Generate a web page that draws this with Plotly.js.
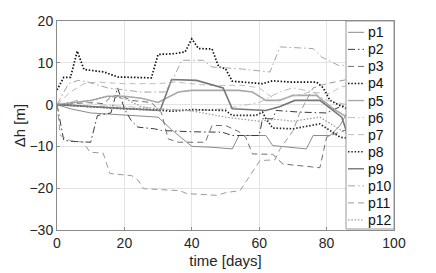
<!DOCTYPE html>
<html>
<head>
<meta charset="utf-8">
<script src="https://cdn.plot.ly/plotly-3.0.1.min.js"></script>
<style>html,body{margin:0;padding:0;background:#fff;}#chart{width:436px;height:273px;}</style>
</head>
<body>
<div id="chart"></div>
<script>
// Series names
const names = ["p1","p2","p3","p4","p5","p6","p7","p8","p9","p10","p11","p12"];

// time [days] and Δh [m] for each series
const p1x = [0,4,10,20,30,34,40,46,52,54,62,64,74,76,81,84,86];
const p1y = [0,-1,-2,-2.5,-3,-6,-10,-10.2,-10.6,-7.4,-7.4,-9.8,-10.6,-7.4,-7.4,-5,-2];

const p2x = [0,2,4,10,12,16,18,20,22,24,29,31,40,49,52,60,61,64,65,72,80,84,86];
const p2y = [0,-8.5,-8.8,-9,-2.6,-2,4,-1,-3.8,-5.4,-5.8,-6.2,-6.5,-6.6,-7.4,-7.4,-3.4,-3.4,-1.4,-1.8,-2,-0.5,0];

const p3x = [0,10,14,16,19,22,28,31,33,36,44,46,50,54,56,58,64,67,78,80,84,86];
const p3y = [0,0.5,0.2,2,2.2,1,0.5,-2,-8.2,-9,-9,-5,-5,-6.5,-7.8,-11.8,-11.9,-14.2,-15.1,-7.8,-6.5,-6];

const p4x = [0,2,4,6,8,14,18,28,30,35,38,40,42,46,48,50,52,61,64,69,77,79,81,86];
const p4y = [3.5,6.5,6.5,12.8,8.4,7.8,6.6,6.4,12,12.2,12.6,15.7,13.4,13.3,9,8.6,5.6,5,5.7,5.4,5.4,4,1,-1];

const p5x = [0,5,10,15,20,25,30,36,40,46,54,58,62,66,70,77,82,86];
const p5y = [0,0.5,1,2,2,1.5,0.5,3,3.4,3.4,3.4,3,1,1,2.2,2.2,-1,-3];

const p6x = [0,6,12,20,30,40,50,60,66,70,76,80,86];
const p6y = [0,1,0,-0.5,-1,-1.5,-1,0.5,3,4,3,1,0];

const p7x = [0,4,8,12,20,30,35,45,55,60,65,70,75,81,84,86];
const p7y = [0,3,5,5.4,5,5,5.4,4.6,4.6,4,1,2,3,2.6,4.2,4.5];

const p8x = [0,10,20,30,34,40,46,50,52,59,61,62,64,70,78,84,86];
const p8y = [0,-0.5,-1,-1.3,-1.6,-1.2,-1.4,-1.4,-2.6,-2.6,-1.8,-3.4,-5.6,-5.8,-4.6,-7.8,-8];

const p9x = [0,10,20,30.6,34,41.4,49.3,52,62,66,70.6,78,84.5,86];
const p9y = [0,-0.5,-1,-1.4,6,5.8,4,-1,-1.4,-0.5,1,1,-3,-6.6];

const p10x = [0,3.4,6.3,9.2,15,25,32,34.5,37,43.4,46,55,63.2,66.2,76,78.5,83.5,86];
const p10y = [0,5,5.8,5.4,4,3,3,6.2,10.6,10.6,9,8.5,7.8,13.8,13.4,11.4,9.4,9.4];

const p11x = [0,1,3.9,7.8,9.8,13.7,15.7,22.2,24.2,25.6,36.5,38.5,47.4,50.4,54.3,56.3,60.2,64.7,66.2,70.1,72,76,80,86];
const p11y = [0,-7.4,-8.6,-9,-11.4,-11.6,-16.5,-17,-18.2,-20.1,-20.6,-21.3,-21.7,-21,-20.6,-18.2,-13.4,-13.2,-10.6,-6.2,-2,4,5,6];

const p12x = [0,10,15,20,25,30,40,50,55,60,65,70,78,82,86];
const p12y = [0,1,2,1.5,-0.5,-1,-1.5,-3,-3.5,-4,-3.5,-4,-3,-5,-7];

const xs = [p1x,p2x,p3x,p4x,p5x,p6x,p7x,p8x,p9x,p10x,p11x,p12x];
const ys = [p1y,p2y,p3y,p4y,p5y,p6y,p7y,p8y,p9y,p10y,p11y,p12y];

const DOT = '1.5px,1.8px', DASH = '6px,4px', DASHDOT = '7px,3px,1.5px,3px';
const styles = [
  {color:'#8a8a8a', dash:'solid', width:1},
  {color:'#3a3a3a', dash:DASHDOT, width:1},
  {color:'#6e6e6e', dash:DASH,    width:1},
  {color:'#111111', dash:DOT,     width:1.7},
  {color:'#a8a8a8', dash:'solid', width:1.6},
  {color:'#bdbdbd', dash:DASHDOT, width:1},
  {color:'#bdbdbd', dash:DASH,    width:1},
  {color:'#2a2a2a', dash:DOT,     width:1.7},
  {color:'#777777', dash:'solid', width:1.6},
  {color:'#a5a5a5', dash:DASHDOT, width:1},
  {color:'#9a9a9a', dash:DASH,    width:1},
  {color:'#9a9a9a', dash:DOT,     width:1.2}
];

const traces = names.map((n,i) => ({
  x: xs[i], y: ys[i], name: n, type: 'scatter', mode: 'lines',
  line: Object.assign({}, styles[i]), showlegend: false
}));

// Legend drawn inside the plot (paper coordinates of the plot area)
const W = 337, H = 209;              // plot area size in px
const legBox = {x0: (346-57)/W, x1: 1, y0: 1/H, y1: 1};
const shapes = [{
  type: 'rect', xref: 'paper', yref: 'paper',
  x0: legBox.x0, x1: legBox.x1, y0: legBox.y0, y1: legBox.y1,
  line: {color: '#8c8c8c', width: 0.9}, fillcolor: '#ffffff', layer: 'above'
}];
const annotations = [];
names.forEach((n, i) => {
  const cy = 1 - (32.3 - 21 + 17.06*i)/H;
  shapes.push({
    type: 'line', xref: 'paper', yref: 'paper',
    x0: (348-57)/W, x1: (364-57)/W, y0: cy, y1: cy,
    line: Object.assign({}, styles[i], {width: Math.min(styles[i].width, 1.4)}), layer: 'above'
  });
  annotations.push({
    text: n, xref: 'paper', yref: 'paper', x: (365.5-57)/W, y: cy,
    xanchor: 'left', yanchor: 'middle', showarrow: false,
    font: {family: 'Liberation Sans, Arial, sans-serif', size: 14, color: '#111'}
  });
});

const axisCommon = {
  showline: true, mirror: true, linecolor: '#8c8c8c', linewidth: 1,
  showgrid: true, gridcolor: '#e3e3e3', gridwidth: 1,
  zeroline: false, ticks: 'inside', ticklen: 3, tickcolor: '#8c8c8c',
  tickfont: {family: 'Liberation Sans, Arial, sans-serif', size: 14, color: '#262626'}
};

const layout = {
  width: 436, height: 273,
  margin: {l: 57, r: 42, t: 21, b: 43},
  paper_bgcolor: '#fff', plot_bgcolor: '#fff',
  font: {family: 'Liberation Sans, Arial, sans-serif', color: '#262626'},
  showlegend: false,
  shapes: shapes,
  annotations: annotations,
  xaxis: Object.assign({}, axisCommon, {
    range: [0, 100], dtick: 20, tick0: 0,
    title: {text: 'time [days]', font: {size: 15, color: '#262626'}, standoff: 5}
  }),
  yaxis: Object.assign({}, axisCommon, {
    range: [-30, 20], dtick: 10, tick0: 0,
    title: {text: 'Δh [m]', font: {size: 15, color: '#262626'}, standoff: 0}
  })
};

Plotly.newPlot('chart', traces, layout, {displayModeBar: false, staticPlot: true});
</script>
</body>
</html>
